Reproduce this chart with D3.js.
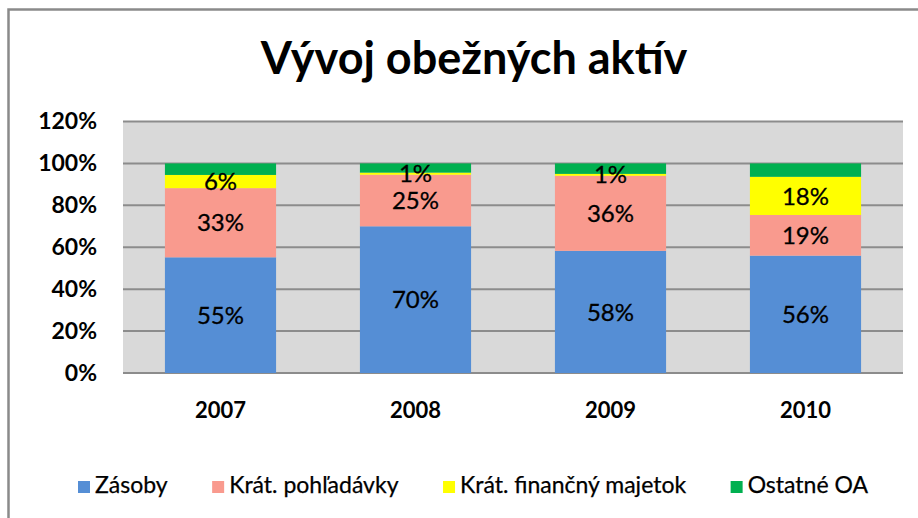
<!DOCTYPE html>
<html>
<head>
<meta charset="utf-8">
<script src="https://cdn.jsdelivr.net/npm/d3@7"></script>
<style>
  body { margin: 0; background: #fff; }
  svg { display: block; font-family: Lato, "Open Sans", sans-serif; }
</style>
</head>
<body>
<svg id="chart" width="918" height="518"></svg>
<script>
// data (percent of total per year)
const years = ["2007", "2008", "2009", "2010"];
const seriesNames = ["Zásoby", "Krát. pohľadávky", "Krát. finančný majetok", "Ostatné OA"];
const zasoby = [55.2, 70.0, 58.3, 56.0];
const pohladavky = [33.0, 24.6, 35.8, 19.4];
const financny = [6.3, 1.0, 0.9, 18.2];
const ostatne = [5.5, 4.4, 5.0, 6.4];
const yTicks = [0, 20, 40, 60, 80, 100, 120];
const colors = ["#558ed5", "#f99a8e", "#ffff00", "#00b050"];
const showLabel = [true, true, true, false];

const svg = d3.select("#chart");
const plot = { left: 123, right: 903, top: 121.5, bottom: 373 };

// outer frame
svg.append("rect")
  .attr("x", 8.5).attr("y", 9.5)
  .attr("width", 930).attr("height", 530)
  .attr("fill", "#fff")
  .attr("stroke", "#8a8a8a")
  .attr("stroke-width", 2.5);

// title
svg.append("text")
  .attr("x", 474).attr("y", 74)
  .attr("text-anchor", "middle")
  .attr("font-size", "45px")
  .attr("font-weight", "bold")
  .attr("fill", "#000")
  .text("Vývoj obežných aktív");

const x = d3.scaleBand()
  .domain(years)
  .range([plot.left, plot.right])
  .paddingInner(0.43)
  .paddingOuter(0.215);

const y = d3.scaleLinear().domain([0, 120]).range([plot.bottom, plot.top]);

// plot background
svg.append("rect")
  .attr("x", plot.left).attr("y", plot.top)
  .attr("width", plot.right - plot.left).attr("height", plot.bottom - plot.top)
  .attr("fill", "#d9d9d9");

// gridlines
svg.append("g")
  .selectAll("line")
  .data(yTicks)
  .join("line")
  .attr("x1", plot.left).attr("x2", plot.right)
  .attr("y1", d => y(d)).attr("y2", d => y(d))
  .attr("stroke", "#8c8c8c")
  .attr("stroke-width", 2);

// y axis labels
const yAxis = d3.axisLeft(y).tickValues(yTicks).tickFormat(d => d + "%").tickSize(0).tickPadding(26);
const yg = svg.append("g").attr("transform", `translate(${plot.left},0)`).call(yAxis);
yg.select(".domain").remove();
yg.selectAll("text")
  .attr("font-family", "Lato, sans-serif")
  .attr("font-size", "23px")
  .attr("font-weight", "bold")
  .attr("fill", "#000");

// stacked bars
const rows = years.map((yr, i) => ({
  year: yr,
  "Zásoby": zasoby[i],
  "Krát. pohľadávky": pohladavky[i],
  "Krát. finančný majetok": financny[i],
  "Ostatné OA": ostatne[i]
}));
const stacked = d3.stack().keys(seriesNames)(rows);

const layers = svg.append("g")
  .selectAll("g")
  .data(stacked)
  .join("g")
  .attr("fill", (d, i) => colors[i]);

layers.selectAll("rect")
  .data(d => d)
  .join("rect")
  .attr("x", d => x(d.data.year))
  .attr("width", x.bandwidth())
  .attr("y", d => y(d[1]))
  .attr("height", d => y(d[0]) - y(d[1]));

// data labels
svg.append("g")
  .selectAll("g")
  .data(stacked.filter((s, i) => showLabel[i]))
  .join("g")
  .selectAll("text")
  .data(d => d)
  .join("text")
  .attr("x", d => x(d.data.year) + x.bandwidth() / 2)
  .attr("y", d => (y(d[0]) + y(d[1])) / 2)
  .attr("dy", "0.36em")
  .attr("text-anchor", "middle")
  .attr("font-size", "24px")
  .attr("fill", "#000")
  .attr("stroke", "#000")
  .attr("stroke-width", 0.3)
  .text(d => Math.round(d[1] - d[0]) + "%");

// x axis labels
const xAxis = d3.axisBottom(x).tickSize(0).tickPadding(29);
const xg = svg.append("g").attr("transform", `translate(0,${plot.bottom})`).call(xAxis);
xg.select(".domain").remove();
xg.selectAll("text")
  .attr("font-family", "Lato, sans-serif")
  .attr("font-size", "22px")
  .attr("font-weight", "bold")
  .attr("fill", "#000");

// legend
const legend = svg.append("g");
const items = seriesNames.map((name, i) => {
  const item = legend.append("g");
  item.append("rect")
    .attr("x", 0).attr("y", -12)
    .attr("width", 12).attr("height", 12)
    .attr("fill", colors[i]);
  const t = item.append("text")
    .attr("x", 17).attr("y", 0)
    .attr("font-size", "23px")
    .attr("fill", "#000")
    .attr("stroke", "#000")
    .attr("stroke-width", 0.25)
    .text(name);
  return { item, w: 17 + t.node().getComputedTextLength() };
});
const legendLeft = 78, legendRight = 868;
const gap = (legendRight - legendLeft - d3.sum(items, d => d.w)) / (items.length - 1);
let lx = 0;
items.forEach(d => {
  d.item.attr("transform", `translate(${lx},0)`);
  lx += d.w + gap;
});
legend.attr("transform", `translate(${legendLeft},493)`);
</script>
</body>
</html>
